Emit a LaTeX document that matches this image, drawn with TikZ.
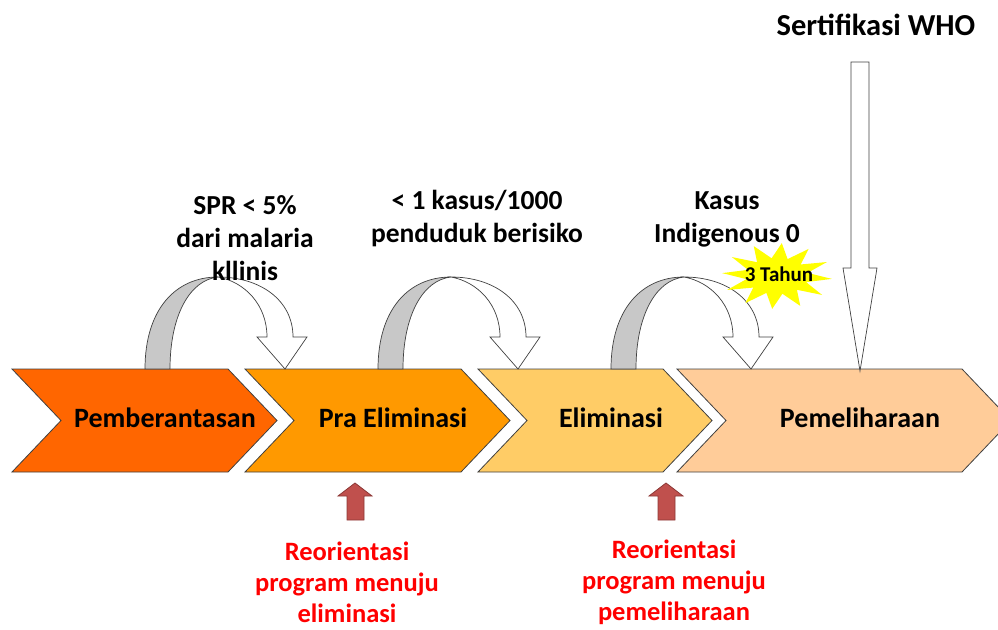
\documentclass[tikz,border=0pt]{standalone}
\usepackage{fontspec}
\setmainfont{Carlito}
\definecolor{c1}{HTML}{FF6600}
\definecolor{c2}{HTML}{FF9900}
\definecolor{c3}{HTML}{FFCC66}
\definecolor{c4}{HTML}{FFCC99}
\definecolor{edgecol}{HTML}{404040}
\definecolor{backcol}{HTML}{C8C8C8}
\definecolor{redfill}{HTML}{C0504D}
\definecolor{reddraw}{HTML}{8C3836}
\definecolor{starcol}{HTML}{FFFF00}
\tikzset{
  chev/.style={draw=edgecol, line width=0.8pt},
  outl/.style={draw=edgecol, line width=0.7pt},
  lbl/.style={font=\fontsize{27.5}{33}\selectfont\bfseries, align=center, inner sep=0pt, text=black},
  chevlbl/.style={lbl, font=\fontsize{28}{33}\selectfont\bfseries},
  redlbl/.style={font=\fontsize{26.5}{31}\selectfont\bfseries, align=center, inner sep=0pt, text=red},
  uparrow/.style={fill=redfill, draw=reddraw, line width=0.8pt},
}
\newcommand\mychevron[3]{%
  \path[fill=#1,chev] (#2,369) -- (#3,369) -- (#3+49,420.5) -- (#3,472) -- (#2,472) -- (#2+49,420.5) -- cycle;}
\newcommand\mycurved[1]{%
  \begin{scope}[xshift=#1pt]
    \path[fill=backcol,outl] (0,369) .. controls (0,310) and (30,277) .. (73,277)
      .. controls (45,280) and (25,315) .. (25,369) -- cycle;
    \path[fill=white,outl] (73,277) .. controls (115,277) and (148,300) .. (148,337)
      -- (162,337) -- (140,369) -- (112,337) -- (122,337)
      .. controls (122,305) and (100,282) .. (73,277) -- cycle;
  \end{scope}}
\newcommand\myup[1]{%
  \begin{scope}[xshift=#1pt]
    \path[uparrow] (-8,520) -- (-8,496) -- (-17,496) -- (0,483) -- (17,496) -- (9,496) -- (9,520) -- cycle;
  \end{scope}}
\begin{document}
\begin{tikzpicture}[x=1pt,y=-1pt]
\useasboundingbox (0,0) rectangle (998,629);
% chevrons
\mychevron{c1}{12}{228}
\mychevron{c2}{245}{461}
\mychevron{c3}{478}{663}
\mychevron{c4}{677}{962}
% curved arrows
\mycurved{145}
\mycurved{378}
\mycurved{611}
% star
\fill[starcol, shift={(777,276)}] (5:55 and 33)
  \foreach \a in {5,35,...,335}{ -- (\a+15:31 and 18) -- (\a+30:55 and 33)} -- cycle;
% WHO arrow
\path[fill=white,outl] (851,62) -- (869,62) -- (869,268) -- (877,268) -- (860,371) -- (843,268) -- (851,268) -- cycle;
% up arrows
\myup{355}
\myup{666}
% chevron labels
\node[chevlbl] (pb) at (165,418) {Pemberantasan};
\node[chevlbl] (pe) at (393,418) {Pra Eliminasi};
\node[chevlbl] (el) at (611,418) {Eliminasi};
\node[chevlbl] (pm) at (860,418) {Pemeliharaan};
% top labels
\node[lbl] (spr) at (245,238) {SPR < 5\%\\dari malaria\\kllinis};
\node[lbl] (kas) at (477,219) {< 1 kasus/1000\\penduduk berisiko};
\node[lbl] (ind) at (727,219) {Kasus\\Indigenous 0};
\node[lbl, font=\fontsize{21}{25}\selectfont\bfseries] (thn) at (779,274) {3 Tahun};
\node[lbl, font=\fontsize{30.5}{36}\selectfont\bfseries] (who) at (876,25) {Sertifikasi WHO};
% bottom labels
\node[redlbl] (r1) at (347,582) {Reorientasi\\program menuju\\eliminasi};
\node[redlbl] (r2) at (674,582) {Reorientasi\\program menuju\\pemeliharaan};
\end{tikzpicture}
\end{document}
